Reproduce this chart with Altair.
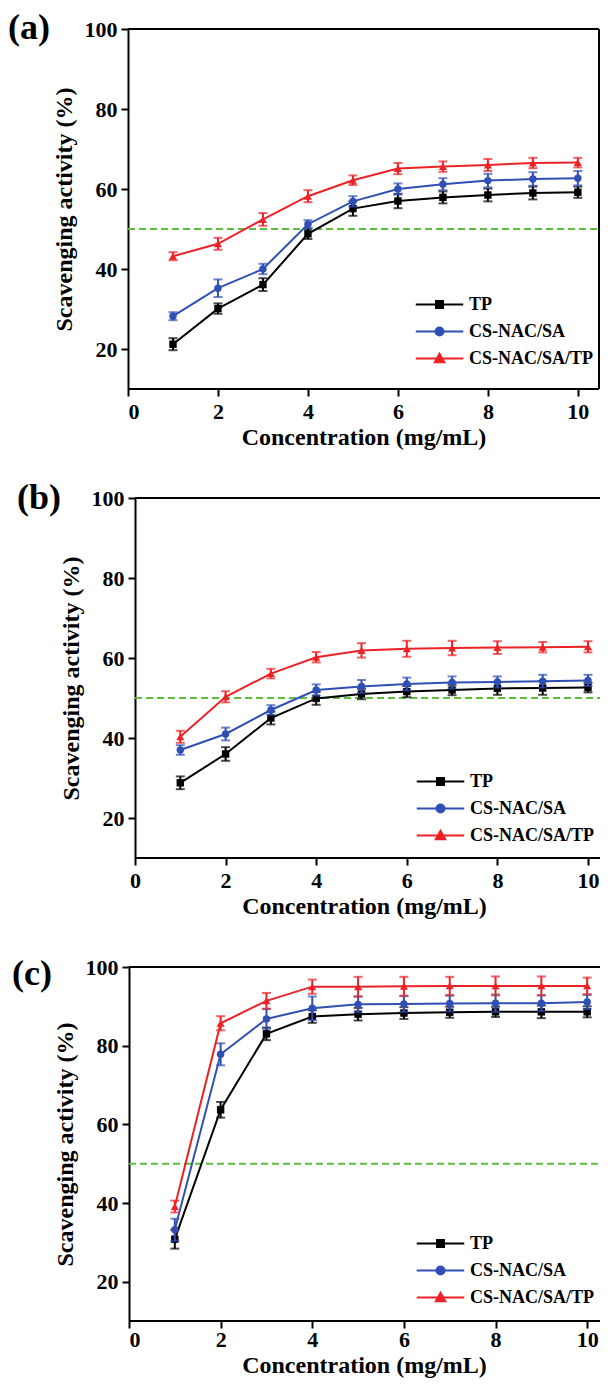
import altair as alt
import pandas as pd

# ---------------- data ----------------
conc = [1, 2, 3, 4, 5, 6, 7, 8, 9, 10]
series_names = ["TP", "CS-NAC/SA", "CS-NAC/SA/TP"]
series_colors = ["#000000", "#2f4fb5", "#ec2227"]
point_shapes = ["square", "circle", "triangle-up"]

a_tp = [21.2, 30.1, 36.1, 48.8, 55.1, 57.0, 57.9, 58.5, 59.0, 59.2]
a_tp_err = [1.5, 1.3, 1.6, 1.3, 1.8, 1.8, 1.5, 1.6, 1.6, 1.4]
a_cs = [28.2, 35.2, 40.0, 51.2, 56.9, 60.0, 61.2, 62.1, 62.5, 62.7]
a_cs_err = [1.0, 2.2, 1.3, 1.0, 1.3, 1.4, 1.5, 1.7, 1.7, 1.8]
a_cst = [43.2, 46.3, 52.4, 58.2, 62.2, 65.1, 65.6, 66.0, 66.5, 66.6]
a_cst_err = [1.0, 1.5, 1.6, 1.5, 1.2, 1.4, 1.3, 1.5, 1.3, 1.2]

b_tp = [28.8, 36.0, 45.0, 49.9, 51.0, 51.6, 52.0, 52.4, 52.5, 52.6]
b_tp_err = [1.6, 1.7, 1.6, 1.6, 1.3, 1.4, 1.3, 1.6, 1.7, 1.2]
b_cs = [37.0, 41.0, 47.0, 52.0, 52.9, 53.5, 53.9, 54.0, 54.2, 54.4]
b_cs_err = [1.2, 1.6, 1.2, 1.4, 1.6, 1.6, 1.5, 1.4, 1.6, 1.4]
b_cst = [40.3, 50.3, 56.1, 60.2, 61.9, 62.3, 62.5, 62.6, 62.7, 62.8]
b_cst_err = [1.5, 1.4, 1.2, 1.3, 1.8, 2.0, 1.8, 1.6, 1.3, 1.4]

c_tp = [30.8, 63.7, 83.0, 87.4, 88.0, 88.3, 88.5, 88.6, 88.6, 88.6]
c_tp_err = [2.4, 2.0, 1.6, 1.6, 1.6, 1.5, 1.4, 1.3, 1.6, 1.4]
c_cs = [33.2, 77.8, 86.8, 89.5, 90.5, 90.6, 90.7, 90.8, 90.8, 91.1]
c_cs_err = [2.8, 2.8, 2.5, 3.0, 2.0, 2.0, 2.0, 2.2, 2.0, 1.8]
c_cst = [39.1, 85.7, 91.4, 95.0, 95.0, 95.1, 95.2, 95.2, 95.2, 95.2]
c_cst_err = [1.5, 1.8, 2.0, 1.8, 2.5, 2.4, 2.3, 2.4, 2.4, 2.1]

x_ticks = [0, 2, 4, 6, 8, 10]
y_ticks = [20, 40, 60, 80, 100]
y_domain = [10, 100]
half_line = 50

FONT = "Liberation Serif"

# legend symbols: a line with the marker in the middle
legend_paths = [
    "M-2.5,0H2.5M-0.37,-0.37H0.37V0.37H-0.37Z",
    "M-2.5,0H2.5M0.42,0A0.42,0.42,0,1,1,-0.42,0A0.42,0.42,0,1,1,0.42,0Z",
    "M-2.5,0H2.5M0,-0.5L0.5,0.4H-0.5Z",
]


def make_panel(label, vals, errs, width, height, xdom, yoff, right_frame,
               legend_x, legend_y, label_x, label_y, xlab_pad, xtitle_pad):
    rows = []
    for s, v, e in zip(series_names, vals, errs):
        for c, vv, ee in zip(conc, v, e):
            rows.append({"conc": c, "value": vv, "lo": vv - ee, "hi": vv + ee, "series": s})
    df = pd.DataFrame(rows)

    xs = alt.Scale(domain=xdom, nice=False, zero=False)
    ys = alt.Scale(domain=y_domain, nice=False, zero=False)
    xaxis = alt.Axis(values=x_ticks, title="Concentration (mg/mL)", domain=False,
                     labelPadding=xlab_pad, titlePadding=xtitle_pad, format="d", labelAngle=0)
    yaxis = alt.Axis(values=y_ticks, title="Scavenging activity (%)", domain=True,
                     offset=yoff, labelPadding=4, titlePadding=8, format="d")

    def X(f):
        return alt.X(f, type="quantitative", scale=xs, axis=xaxis)

    def Y(f):
        return alt.Y(f, type="quantitative", scale=ys, axis=yaxis)

    layers = []
    # frame (top / bottom / right) in data coordinates
    fr = [{"x": 0, "x2": xdom[1], "y": y_domain[1], "y2": y_domain[1]},
          {"x": 0, "x2": xdom[1], "y": y_domain[0], "y2": y_domain[0]}]
    if right_frame:
        fr.append({"x": xdom[1], "x2": xdom[1], "y": y_domain[0], "y2": y_domain[1]})
    layers.append(alt.Chart(pd.DataFrame(fr)).mark_rule(color="black", strokeWidth=2).encode(
        x=X("x"), x2="x2", y=Y("y"), y2="y2"))

    # 50 % dashed reference line
    ref = pd.DataFrame({"x": [0], "x2": [xdom[1]], "y": [half_line]})
    layers.append(alt.Chart(ref).mark_rule(color="#5cbf3c", strokeWidth=2, strokeDash=[7, 4]).encode(
        x=X("x"), x2="x2", y=Y("y")))

    for s, col, shp in zip(series_names, series_colors, point_shapes):
        sd = df[df["series"] == s]
        base = alt.Chart(sd)
        layers.append(base.mark_rule(color=col, strokeWidth=2).encode(x=X("conc"), y=Y("lo"), y2="hi"))
        layers.append(base.mark_tick(color=col, orient="horizontal", size=9, thickness=2).encode(
            x=X("conc"), y=Y("lo")))
        layers.append(base.mark_tick(color=col, orient="horizontal", size=9, thickness=2).encode(
            x=X("conc"), y=Y("hi")))
        layers.append(base.mark_line(color=col, strokeWidth=2).encode(x=X("conc"), y=Y("value")))
        layers.append(base.mark_point(color=col, filled=True, opacity=1, shape=shp,
                                      size=55 if shp != "triangle-up" else 65).encode(
            x=X("conc"), y=Y("value")))

    leg = alt.Legend(orient="none", legendX=legend_x, legendY=legend_y, title=None,
                     labelFont=FONT, labelFontSize=18, labelFontWeight="bold", labelColor="black",
                     symbolSize=361, symbolStrokeWidth=2, symbolOpacity=1, rowPadding=7,
                     labelOffset=19, padding=0, offset=0, labelLimit=300)
    legend_layer = alt.Chart(df).transform_filter("false").mark_point(
        filled=True, opacity=1, size=361, strokeWidth=2).encode(
        fill=alt.Fill("series:N", scale=alt.Scale(domain=series_names, range=series_colors), legend=leg),
        stroke=alt.Stroke("series:N", scale=alt.Scale(domain=series_names, range=series_colors), legend=leg),
        shape=alt.Shape("series:N", scale=alt.Scale(domain=series_names, range=legend_paths), legend=leg),
    )
    layers.append(legend_layer)

    lab = alt.Chart(pd.DataFrame({"t": [label]})).mark_text(
        font=FONT, fontSize=36, fontWeight="bold", align="left", baseline="middle", color="black").encode(
        text="t:N", x=alt.value(label_x), y=alt.value(label_y))
    layers.append(lab)

    return alt.layer(*layers).properties(width=width, height=height)


pa = make_panel("(a)", [a_tp, a_cs, a_cst], [a_tp_err, a_cs_err, a_cst_err],
                471, 360, [0, 10.47], 0, True, 301, 265, -120, -1, 5, 3)
pb = make_panel("(b)", [b_tp, b_cs, b_cst], [b_tp_err, b_cs_err, b_cst_err],
                472, 360, [-0.1545, 10.265], -7, False, 302, 273, -111, 0, 5, 3)
pc = make_panel("(c)", [c_tp, c_cs, c_cst], [c_tp_err, c_cs_err, c_cst_err],
                472, 354, [-0.0217, 10.28], -1, False, 302, 266, -116, 7, 1, 3)

chart = alt.vconcat(pa, pb, pc, spacing=109, bounds="flush").resolve_scale(
    x="independent", y="independent", fill="independent", stroke="independent", shape="independent"
).resolve_legend(
    fill="independent", stroke="independent", shape="independent"
).properties(
    autosize=alt.AutoSizeParams(type="none"),
    padding={"left": 120, "top": 21, "right": 472, "bottom": 1351}
).configure_axis(
    labelFont=FONT, labelFontSize=22, labelFontWeight="bold", labelColor="black",
    titleFont=FONT, titleFontSize=24, titleFontWeight="bold", titleColor="black",
    tickColor="black", tickWidth=2, tickSize=7, domainColor="black", domainWidth=2, grid=False,
).configure_view(stroke=None)

chart.save("out.html", embed_options={"renderer": "svg", "actions": False})
